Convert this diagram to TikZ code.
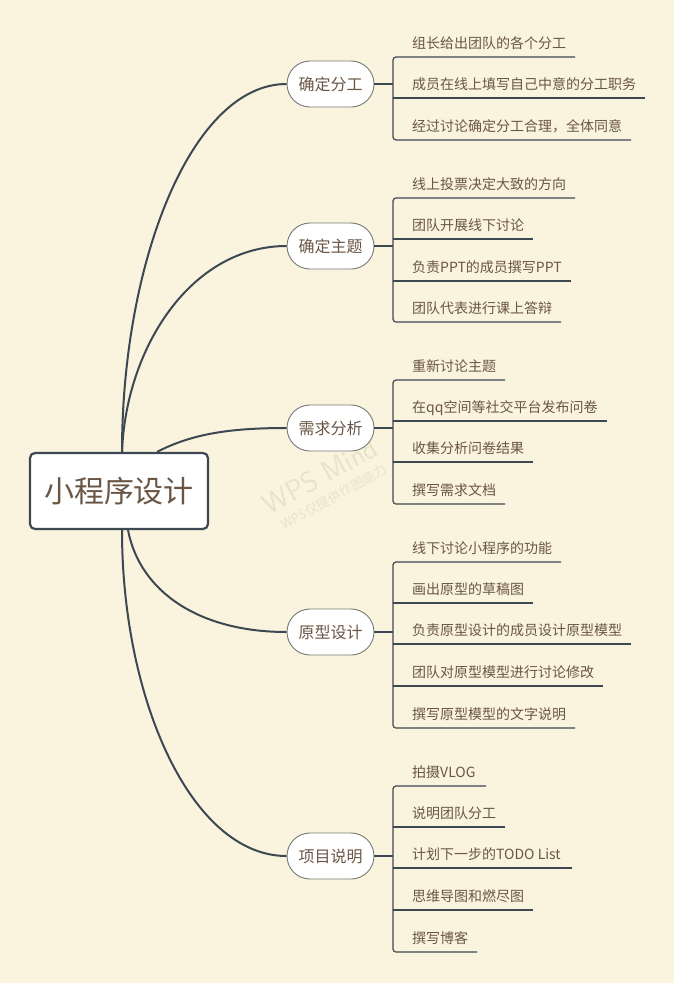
\documentclass[tikz,border=0pt]{standalone}
\usepackage{fontspec}
\setmainfont{Noto Sans CJK SC}
\usetikzlibrary{shapes.misc}
\definecolor{bgc}{RGB}{250,243,221}
\definecolor{linec}{RGB}{62,72,82}
\definecolor{textc}{RGB}{106,86,68}
\definecolor{nodeb}{RGB}{120,120,120}
\definecolor{wmc}{RGB}{234,226,203}
\begin{document}
\begin{tikzpicture}[x=1pt,y=-1pt,
  rootbox/.style={draw=linec, line width=2.2pt, fill=white, rounded corners=5pt,
    minimum width=178pt, minimum height=76pt, inner sep=0pt,
    font=\fontsize{30}{36}\selectfont, text=textc},
  branch/.style={rounded rectangle, draw=nodeb, line width=0.9pt, fill=white,
    minimum width=87pt, minimum height=46pt, inner sep=0pt,
    font=\fontsize{16}{19}\selectfont, text=textc},
  leaf/.style={anchor=base west, font=\fontsize{14}{17}\selectfont, text=textc, inner sep=0pt},
  curve/.style={draw=linec, line width=2pt},
  conn/.style={draw=linec, line width=2.5pt},
  uline/.style={draw=linec, line width=1.2pt},
  brack/.style={draw=linec, line width=1.2pt, rounded corners=3pt},
  wm/.style={text=wmc, inner sep=0pt, rotate=29}]
\useasboundingbox (0,0) rectangle (674,983);
\fill[bgc] (0,0) rectangle (674,983);

% watermark
\node[wm, font=\fontsize{29}{33}\selectfont\sffamily] (wm1) at (320,476) {WPS Mind};
\node[wm, font=\fontsize{13}{15}\selectfont] (wm2) at (334,497) {WPS仅提供作图能力};

% root
\node[rootbox] (root) at (119,491) {小程序设计};

% branches
\node[branch] (b1) at (330.5,84) {确定分工};
\node[branch] (b2) at (330.5,246) {确定主题};
\node[branch] (b3) at (330.5,428) {需求分析};
\node[branch] (b4) at (330.5,632) {原型设计};
\node[branch] (b5) at (330.5,856) {项目说明};

% curves
\draw[curve] ([xshift=3pt]root.north) .. controls +(0,-190) and +(-95,0) .. (b1.west);
\draw[curve] ([xshift=3pt]root.north) .. controls +(4,-105) and +(-95,0) .. (b2.west);
\draw[curve] ([xshift=38pt]root.north) .. controls +(35,-18) and +(-57,0) .. (b3.west);
\draw[curve] ([xshift=9pt]root.south) .. controls +(12,62) and +(-87,0) .. (b4.west);
\draw[curve] ([xshift=3pt]root.south) .. controls +(0,170) and +(-95,0) .. (b5.west);

% junction coordinates
\coordinate (k1) at (393,84);
\coordinate (k2) at (393,246);
\coordinate (k3) at (393,428);
\coordinate (k4) at (393,632);
\coordinate (k5) at (393,856);
\draw[conn] (b1.east) -- (k1);
\draw[conn] (b2.east) -- (k2);
\draw[conn] (b3.east) -- (k3);
\draw[conn] (b4.east) -- (k4);
\draw[conn] (b5.east) -- (k5);

% branch 1 leaves
\node[leaf] (l11) at (412,48) {组长给出团队的各个分工};
\node[leaf] (l12) at (412,89) {成员在线上填写自己中意的分工职务};
\node[leaf] (l13) at (412,131) {经过讨论确定分工合理，全体同意};
\draw[brack] (575,57) -- (393,57) -- (393,140) -- (631,140);
\draw[uline] (393,98) -- (645,98);

% branch 2 leaves
\node[leaf] (l21) at (412,189) {线上投票决定大致的方向};
\node[leaf] (l22) at (412,230) {团队开展线下讨论};
\node[leaf] (l23) at (412,272) {负责PPT的成员撰写PPT};
\node[leaf] (l24) at (412,313) {团队代表进行课上答辩};
\draw[brack] (575,198) -- (393,198) -- (393,322) -- (561,322);
\draw[uline] (393,239) -- (533,239);
\draw[uline] (393,281) -- (571,281);

% branch 3 leaves
\node[leaf] (l31) at (412,371) {重新讨论主题};
\node[leaf] (l32) at (412,412) {在qq空间等社交平台发布问卷};
\node[leaf] (l33) at (412,453) {收集分析问卷结果};
\node[leaf] (l34) at (412,495) {撰写需求文档};
\draw[brack] (505,380) -- (393,380) -- (393,504) -- (505,504);
\draw[uline] (393,421) -- (607,421);
\draw[uline] (393,462) -- (533,462);

% branch 4 leaves
\node[leaf] (l41) at (412,553) {线下讨论小程序的功能};
\node[leaf] (l42) at (412,594) {画出原型的草稿图};
\node[leaf] (l43) at (412,635) {负责原型设计的成员设计原型模型};
\node[leaf] (l44) at (412,677) {团队对原型模型进行讨论修改};
\node[leaf] (l45) at (412,719) {撰写原型模型的文字说明};
\draw[brack] (561,562) -- (393,562) -- (393,728) -- (575,728);
\draw[uline] (393,603) -- (533,603);
\draw[uline] (393,644) -- (631,644);
\draw[uline] (393,686) -- (603,686);

% branch 5 leaves
\node[leaf] (l51) at (412,777) {拍摄VLOG};
\node[leaf] (l52) at (412,818) {说明团队分工};
\node[leaf] (l53) at (412,859) {计划下一步的TODO List};
\node[leaf] (l54) at (412,901) {思维导图和燃尽图};
\node[leaf] (l55) at (412,943) {撰写博客};
\draw[brack] (486,786) -- (393,786) -- (393,952) -- (477,952);
\draw[uline] (393,827) -- (505,827);
\draw[uline] (393,868) -- (572,868);
\draw[uline] (393,910) -- (533,910);
\end{tikzpicture}
\end{document}
